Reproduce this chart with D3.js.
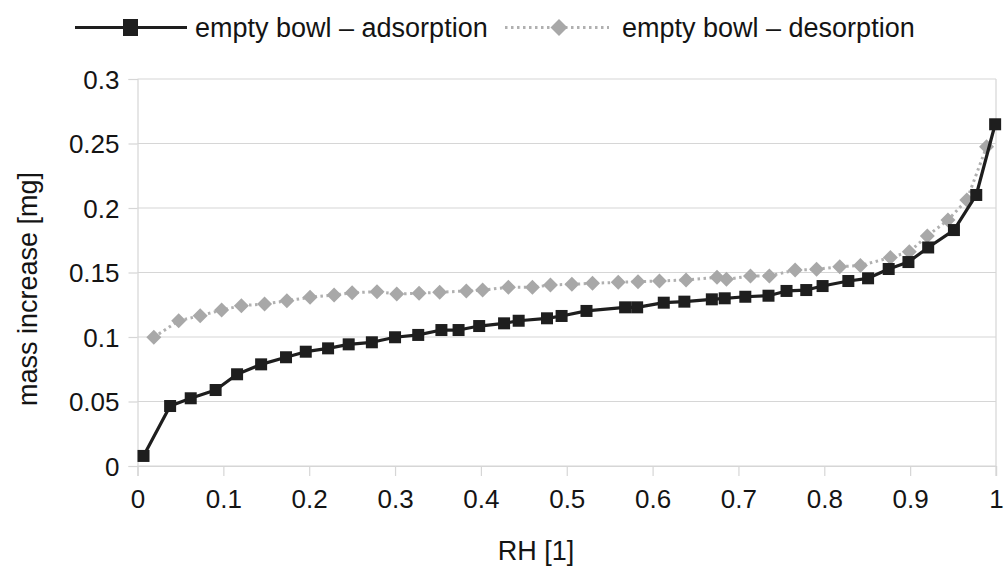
<!DOCTYPE html>
<html><head><meta charset="utf-8">
<script src="https://cdn.jsdelivr.net/npm/d3@7"></script>
<style>
html,body{margin:0;padding:0;background:#fff;}
svg{display:block;font-family:"Liberation Sans",Arial,sans-serif;}
</style></head>
<body>
<svg id="chart" width="1004" height="567"></svg>
<script>
// ---- data ----
const seriesNames = ["empty bowl – adsorption", "empty bowl – desorption"];
const adsorptionRH = [0.007,0.038,0.062,0.091,0.116,0.144,0.173,0.196,0.222,0.246,0.273,0.300,0.327,0.354,0.374,0.398,0.427,0.444,0.477,0.494,0.523,0.568,0.582,0.613,0.637,0.669,0.684,0.708,0.735,0.756,0.779,0.798,0.828,0.851,0.875,0.898,0.921,0.951,0.977,0.999];
const adsorptionMass = [0.0078,0.0465,0.0525,0.0589,0.0711,0.0788,0.0843,0.0886,0.0912,0.0943,0.0959,0.0998,0.1016,0.1054,0.1054,0.1085,0.1106,0.1126,0.1145,0.1163,0.1202,0.1230,0.1230,0.1266,0.1274,0.1292,0.1300,0.1312,0.1320,0.1357,0.1364,0.1395,0.1434,0.1455,0.1527,0.1581,0.1694,0.1829,0.2101,0.2649];
const desorptionRH = [0.019,0.048,0.073,0.098,0.121,0.148,0.174,0.201,0.229,0.250,0.279,0.302,0.328,0.352,0.383,0.402,0.432,0.460,0.481,0.506,0.530,0.560,0.583,0.608,0.639,0.675,0.686,0.714,0.736,0.766,0.791,0.818,0.842,0.877,0.899,0.920,0.944,0.966,0.989];
const desorptionMass = [0.0998,0.1126,0.1165,0.1209,0.1243,0.1256,0.1281,0.1308,0.1326,0.1343,0.1351,0.1333,0.1339,0.1347,0.1357,0.1364,0.1385,0.1385,0.1403,0.1409,0.1416,0.1424,0.1429,0.1434,0.1442,0.1463,0.1447,0.1473,0.1473,0.1519,0.1525,0.1545,0.1554,0.1616,0.1661,0.1783,0.1907,0.2062,0.2475];
const xTicks = [0,0.1,0.2,0.3,0.4,0.5,0.6,0.7,0.8,0.9,1];
const xTickLabels = ["0","0.1","0.2","0.3","0.4","0.5","0.6","0.7","0.8","0.9","1"];
const yTicks = [0,0.05,0.1,0.15,0.2,0.25,0.3];
const yTickLabels = ["0","0.05","0.1","0.15","0.2","0.25","0.3"];
const xTitle = "RH [1]";
const yTitle = "mass increase [mg]";

// ---- chart ----
const svg = d3.select("#chart");
const L = 137.5, R = 996, T = 79, B = 466;
const x = d3.scaleLinear().domain([0,1]).range([L,R]);
const y = d3.scaleLinear().domain([0,0.3]).range([B,T]);
const gridColor = "#d6d6d6";
const textColor = "#141414";

// horizontal gridlines
svg.append("g").selectAll("line").data(yTicks).join("line")
  .attr("x1", L).attr("x2", R)
  .attr("y1", d=>y(d)).attr("y2", d=>y(d))
  .attr("stroke", gridColor).attr("stroke-width", 1.2);

// y axis
const yAxis = d3.axisLeft(y).tickValues(yTicks).tickFormat((d,i)=>yTickLabels[i]).tickSize(9).tickPadding(9);
const gy = svg.append("g").attr("transform", `translate(${L},0)`).call(yAxis);
// x axis
const xAxis = d3.axisBottom(x).tickValues(xTicks).tickFormat((d,i)=>xTickLabels[i]).tickSize(10).tickPadding(14);
const gx = svg.append("g").attr("transform", `translate(0,${B})`).call(xAxis);
[gx, gy].forEach(g=>{
  g.select(".domain").attr("stroke", gridColor).attr("stroke-width",1.2);
  g.selectAll(".tick line").attr("stroke", gridColor).attr("stroke-width",1.2);
  g.selectAll(".tick text").attr("fill", textColor).style("font-size","26px")
   .style("font-family",'"Liberation Sans",Arial,sans-serif');
});
gx.selectAll(".tick text").attr("dy","0.71em");
gy.selectAll(".tick text").attr("dy","0.36em");
// right border
svg.append("line").attr("x1",R).attr("x2",R).attr("y1",T).attr("y2",B+10)
  .attr("stroke",gridColor).attr("stroke-width",1.2);

// axis titles
svg.append("text").attr("x",536).attr("y",560).attr("text-anchor","middle")
  .attr("fill",textColor).style("font-size","27px").text(xTitle);
svg.append("text").attr("transform","translate(37,289) rotate(-90)").attr("text-anchor","middle")
  .attr("fill",textColor).style("font-size","27px").text(yTitle);

// series data
const ads = adsorptionRH.map((v,i)=>({x:v,y:adsorptionMass[i]}));
const des = desorptionRH.map((v,i)=>({x:v,y:desorptionMass[i]}));
const line = d3.line().x(d=>x(d.x)).y(d=>y(d.y));

const desColor = "#b0b0b0", desMarker = "#a8a8a8";
const adsColor = "#1e1e1e";

function diamondPath(h){ return `M0,${-h}L${h},0L0,${h}L${-h},0Z`; }

svg.append("path").datum(des).attr("d",line).attr("fill","none")
  .attr("stroke",desColor).attr("stroke-width",3).attr("stroke-dasharray","2.5,3.5");
svg.append("g").selectAll("path").data(des).join("path")
  .attr("d",diamondPath(7.5)).attr("transform",d=>`translate(${x(d.x)},${y(d.y)})`)
  .attr("fill",desMarker);

svg.append("path").datum(ads).attr("d",line).attr("fill","none")
  .attr("stroke",adsColor).attr("stroke-width",3.2).attr("stroke-linejoin","round");
const sq = 12;
svg.append("g").selectAll("rect").data(ads).join("rect")
  .attr("x",d=>x(d.x)-sq/2).attr("y",d=>y(d.y)-sq/2)
  .attr("width",sq).attr("height",sq).attr("fill",adsColor);

// legend
const ly = 27.5;
const lg = svg.append("g");
lg.append("line").attr("x1",75).attr("x2",187).attr("y1",ly).attr("y2",ly)
  .attr("stroke",adsColor).attr("stroke-width",3.2);
lg.append("rect").attr("x",123).attr("y",ly-8.5).attr("width",15).attr("height",17).attr("fill",adsColor);
lg.append("text").attr("x",195).attr("y",ly).attr("dy","0.36em").attr("fill",textColor)
  .style("font-size","27px").text(seriesNames[0]);
lg.append("line").attr("x1",505).attr("x2",609).attr("y1",ly).attr("y2",ly)
  .attr("stroke",desColor).attr("stroke-width",3).attr("stroke-dasharray","2.5,3.5");
lg.append("path").attr("d",diamondPath(8.5))
  .attr("transform",`translate(559,${ly})`).attr("fill",desMarker);
lg.append("text").attr("x",622).attr("y",ly).attr("dy","0.36em").attr("fill",textColor)
  .style("font-size","27px").text(seriesNames[1]);
</script>
</body></html>
